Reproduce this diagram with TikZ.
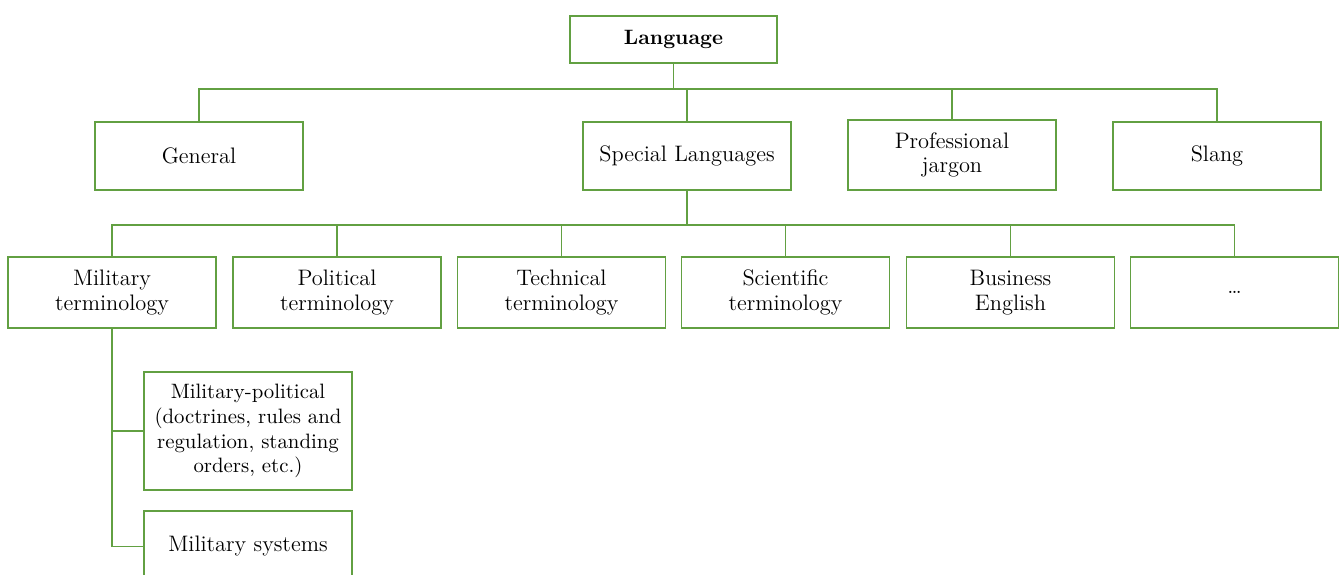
\documentclass[tikz,border=0pt]{standalone}
\usetikzlibrary{positioning}
\definecolor{leaf}{RGB}{98,160,66}

\begin{document}
\begin{tikzpicture}[x=0.5pt, y=-0.5pt,
  box/.style={shape=rectangle, draw=leaf, line width=0.75pt, minimum width=104pt, minimum height=34pt, inner sep=1pt, align=center, font=\fontsize{11.2}{12.4}\selectfont},
  tall/.style={box, minimum height=35.5pt},
  link/.style={-, draw=leaf, line width=0.75pt}]
\useasboundingbox (0,0) rectangle (1339,574);
\node[box, minimum width=103.5pt, minimum height=23.5pt, font=\fontsize{10.4}{12}\selectfont] (lang) at (673.5,39.5) {\textbf{Language}};
\coordinate (j1) at (673.5,89);
\node[box] (gen) at (199,156) {General};
\node[box] (spec) at (687,156) {Special Languages};
\node[box, minimum height=35pt] (prof) at (952,155) {Professional\\jargon};
\node[box] (slang) at (1217,156) {Slang};
\coordinate (j2) at (687,225);
\node[tall] (mil) at (112,292.5) {Military\\terminology};
\node[tall] (pol) at (337,292.5) {Political\\terminology};
\node[tall] (tech) at (561.5,292.5) {Technical\\terminology};
\node[tall] (sci) at (785.5,292.5) {Scientific\\terminology};
\node[tall] (biz) at (1010.5,292.5) {Business\\English};
\node[tall] (more) at (1234.5,292.5) {\ldots};
\node[box, minimum height=59pt, font=\fontsize{10.4}{12.4}\selectfont] (milpol) at (248,431) {Military-political\\(doctrines, rules and\\regulation, standing\\orders, etc.)};
\node[tall] (milsys) at (248,546.5) {Military systems};
\path[link] (lang.south) edge (j1);
\path[link] (gen.north) edge[to path={|- (\tikztotarget)}] (j1);
\path[link] (spec.north) edge (spec.north |- j1);
\path[link] (prof.north) edge[to path={|- (\tikztotarget)}] (j1);
\path[link] (slang.north) edge[to path={|- (\tikztotarget)}] (j1);
\path[link] (spec.south) edge (j2);
\path[link] (mil.north) edge[to path={|- (\tikztotarget)}] (j2);
\path[link] (pol.north) edge[to path={|- (\tikztotarget)}] (j2);
\path[link] (tech.north) edge[to path={|- (\tikztotarget)}] (j2);
\path[link] (sci.north) edge[to path={|- (\tikztotarget)}] (j2);
\path[link] (biz.north) edge[to path={|- (\tikztotarget)}] (j2);
\path[link] (more.north) edge[to path={|- (\tikztotarget)}] (j2);
\path[link] (milpol.west) edge[to path={-| (\tikztotarget)}] (mil.south);
\path[link] (milsys.west) edge[to path={-| (\tikztotarget)}] (mil.south);
\end{tikzpicture}
\end{document}
